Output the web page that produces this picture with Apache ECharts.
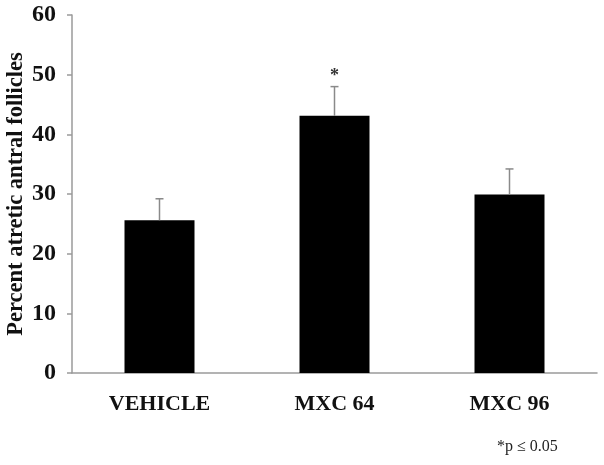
<!DOCTYPE html>
<html>
<head>
<meta charset="utf-8">
<script src="https://cdn.jsdelivr.net/npm/echarts@6/dist/echarts.min.js"></script>
<style>
    html, body { margin: 0; padding: 0; background: #fff; }
    #bar_chart01 { width: 604px; height: 465px; }
</style>
</head>
<body>
<div id="bar_chart01"></div>
<script>
    const group_names = ['VEHICLE', 'MXC 64', 'MXC 96']
    const mean_values = [25.6, 43.1, 29.9]
    const error_tops = [29.2, 48.0, 34.2]
    const sig_marks = ['', '*', '']
    const y_ticks = [0, 10, 20, 30, 40, 50, 60]

    let bar_chart01 = echarts.init(document.getElementById('bar_chart01'))

    const serif = '"Liberation Serif", "Times New Roman", serif'

    let error_data = group_names.map((name, index) => {
        return [index, mean_values[index], error_tops[index], sig_marks[index]]
    })

    let bar_chart01_option = {
        animation: false,
        grid: {left: 72, right: 7, top: 15, bottom: 92, outerBoundsMode: 'none', containLabel: false},
        xAxis: {
            type: 'category',
            data: group_names,
            axisLine: {lineStyle: {color: '#9a9a9a', width: 1.5}},
            axisTick: {show: false},
            axisLabel: {
                color: '#111',
                fontFamily: serif,
                fontWeight: 'bold',
                fontSize: 22,
                margin: 20
            }
        },
        yAxis: {
            type: 'value',
            min: y_ticks[0],
            max: y_ticks[y_ticks.length - 1],
            interval: 10,
            name: 'Percent atretic antral follicles',
            nameLocation: 'middle',
            nameGap: 44,
            nameMoveOverlap: false,
            nameTextStyle: {
                color: '#111',
                fontFamily: serif,
                fontWeight: 'bold',
                fontSize: 22.5
            },
            axisLine: {show: true, lineStyle: {color: '#9a9a9a', width: 1.5}},
            axisTick: {show: true, length: 5, lineStyle: {color: '#9a9a9a', width: 1.5}},
            splitLine: {show: false},
            axisLabel: {
                color: '#111',
                fontFamily: serif,
                fontWeight: 'bold',
                fontSize: 24,
                margin: 16
            }
        },
        series: [
            {
                type: 'bar',
                data: mean_values,
                barWidth: '40%',
                itemStyle: {color: '#000'},
                z: 2
            },
            {
                type: 'custom',
                data: error_data,
                z: 3,
                renderItem: function (params, api) {
                    let base = api.coord([api.value(0), api.value(1)])
                    let top = api.coord([api.value(0), api.value(2)])
                    let half = 4
                    let style = {stroke: '#8a8a8a', lineWidth: 1.5}
                    let children = [
                        {type: 'line', shape: {x1: base[0], y1: base[1], x2: top[0], y2: top[1]}, style: style},
                        {type: 'line', shape: {x1: top[0] - half, y1: top[1], x2: top[0] + half, y2: top[1]}, style: style}
                    ]
                    let mark = error_data[params.dataIndex][3]
                    if (mark) {
                        children.push({
                            type: 'text',
                            x: top[0],
                            y: top[1] - 10,
                            style: {
                                text: mark,
                                fill: '#333',
                                font: 'bold 18px ' + serif,
                                align: 'center',
                                verticalAlign: 'middle'
                            }
                        })
                    }
                    return {type: 'group', children: children}
                }
            }
        ],
        graphic: [
            {
                type: 'text',
                left: 497,
                top: 439,
                style: {
                    text: '*p ≤ 0.05',
                    fill: '#222',
                    font: '16px ' + serif
                }
            }
        ]
    }

    bar_chart01.setOption(bar_chart01_option)
</script>
</body>
</html>
